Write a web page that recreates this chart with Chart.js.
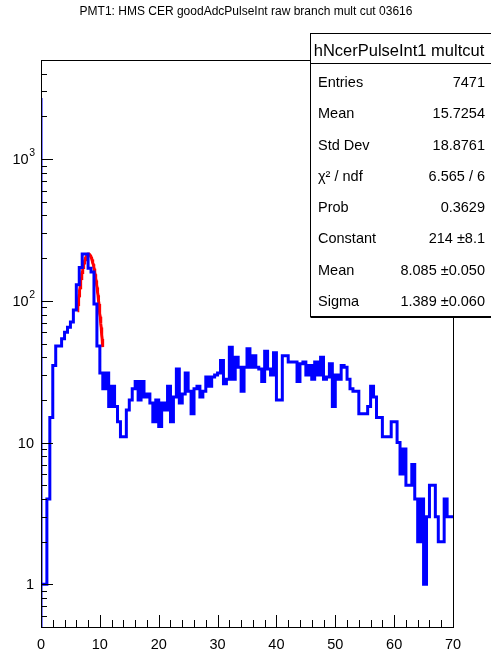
<!DOCTYPE html>
<html>
<head>
<meta charset="utf-8">
<script src="https://cdn.jsdelivr.net/npm/chart.js@4/dist/chart.umd.min.js"></script>
<style>
  html, body { margin: 0; padding: 0; background: #ffffff; }
  #wrap { width: 491px; height: 658px; position: relative; }
  canvas { display: block; }
</style>
</head>
<body>
<div id="wrap"><canvas id="c" width="491" height="658"></canvas></div>
<script>
// PMT1 pulse-integral histogram: 140 bins of width 0.5 over [0, 70]
const plotTitle = 'PMT1: HMS CER goodAdcPulseInt raw branch mult cut 03616';
const xMin = 0;
const xMax = 70;
const binWidth = 0.5;
const counts = [
  2700, 1, 1, 4, 15, 35, 48, 48, 54, 60,
  65, 71, 86, 130, 172, 214, 214, 170, 160, 95,
  48, 31, 24, 31, 18, 25, 18, 14, 11, 11,
  17, 20, 24, 27, 20, 27, 21, 22, 19, 14,
  20, 13, 19, 17, 25, 14, 21, 33, 19, 22,
  31, 23, 16, 24, 25, 21, 23, 29, 25, 29,
  30, 31, 38, 26, 28, 47, 28, 40, 34, 23,
  34, 46, 34, 41, 34, 33, 27, 44, 33, 30,
  43, 20, 20, 41, 41, 37, 37, 37, 27, 36,
  37, 30, 35, 28, 37, 30, 40, 28, 29, 36,
  18, 30, 28, 35, 34, 28, 24, 23, 23, 16,
  16, 16, 18, 25, 21, 15, 15, 11, 11, 11,
  14, 14, 10, 6, 9, 5, 5, 7, 4, 2,
  4, 1, 3, 5, 5, 3, 2, 2, 4, 3
];

// Gaussian fit result and its fit range
const fitConstant = 214;
const fitMean = 8.085;
const fitSigma = 1.389;
const fitRange = [6.2, 10.5];

// axis ticks and labels
const yMin = 0.5;
const yMax = 5000;
const xTickLabels = ['0', '10', '20', '30', '40', '50', '60', '70'];
const xMajorTicks = [0, 10, 20, 30, 40, 50, 60, 70];
const yMajorTicks = [1, 10, 100, 1000];
const yTickBase = ['1', '10', '10', '10'];
const yTickExp = ['', '', '2', '3'];

// statistics box
const statsName = 'hNcerPulseInt1 multcut';
const statsLabels = ['Entries', 'Mean', 'Std Dev', 'χ² / ndf', 'Prob', 'Constant', 'Mean', 'Sigma'];
const statsValues = ['7471', '15.7254', '18.8761', '6.565 / 6', '0.3629', '214 ±8.1', '8.085 ±0.050', '1.389 ±0.060'];

// step outline: start on the lower edge, then one point per bin low edge, then the upper edge
const histPoints = [{ x: xMin, y: yMin }];
counts.forEach((c, i) => histPoints.push({ x: xMin + i * binWidth, y: c }));
histPoints.push({ x: xMin + counts.length * binWidth, y: counts[counts.length - 1] });

const fitPoints = [];
const nFit = 80;
for (let i = 0; i <= nFit; i++) {
  const x = fitRange[0] + (fitRange[1] - fitRange[0]) * i / nFit;
  const d = (x - fitMean) / fitSigma;
  fitPoints.push({ x, y: fitConstant * Math.exp(-0.5 * d * d) });
}

const FONT = '"Liberation Sans", Arial, Helvetica, sans-serif';

const rootStyle = {
  id: 'rootStyle',
  afterDatasetsDraw(chart) {
    const ctx = chart.ctx;
    const a = chart.chartArea;
    const xs = chart.scales.x;
    const ys = chart.scales.y;
    ctx.save();

    // frame
    ctx.strokeStyle = '#000';
    ctx.lineWidth = 1;
    ctx.strokeRect(Math.round(a.left) + 0.5, Math.round(a.top) + 0.5,
                   Math.round(a.right - a.left), Math.round(a.bottom - a.top));

    // x ticks: major every 10, minor every 2, pointing inward
    ctx.beginPath();
    for (let v = xMin; v <= xMax + 1e-9; v += 2) {
      const px = Math.round(xs.getPixelForValue(v)) + 0.5;
      const len = (v % 10 === 0) ? 12 : 7;
      ctx.moveTo(px, a.bottom);
      ctx.lineTo(px, a.bottom - len);
    }
    // y ticks: decades major, 2..9 minor
    for (let e = -1; e <= 3; e++) {
      for (let m = 1; m <= 9; m++) {
        const v = m * Math.pow(10, e);
        if (v < yMin || v > yMax) continue;
        const py = Math.round(ys.getPixelForValue(v)) + 0.5;
        const len = (m === 1) ? 12 : 6;
        ctx.moveTo(a.left, py);
        ctx.lineTo(a.left + len, py);
      }
    }
    ctx.stroke();

    // x labels
    ctx.fillStyle = '#000';
    ctx.font = '14.5px ' + FONT;
    ctx.textAlign = 'center';
    ctx.textBaseline = 'middle';
    xMajorTicks.forEach((v, i) => {
      ctx.fillText(xTickLabels[i], xs.getPixelForValue(v), a.bottom + 18);
    });

    // y labels with raised exponent
    yMajorTicks.forEach((v, i) => {
      const py = ys.getPixelForValue(v);
      let right = a.left - 6;
      if (yTickExp[i]) {
        ctx.font = '10.5px ' + FONT;
        ctx.textAlign = 'right';
        ctx.fillText(yTickExp[i], right, py - 6);
        right -= ctx.measureText(yTickExp[i]).width + 0.5;
      } else {
        right -= 1;
      }
      ctx.font = '14.5px ' + FONT;
      ctx.textAlign = 'right';
      ctx.fillText(yTickBase[i], right, py + 1);
    });

    // title
    ctx.font = '12px ' + FONT;
    ctx.textAlign = 'center';
    ctx.fillText(plotTitle, 246, 12);

    // statistics box
    const bx = 310.5, by = 33.5, bw = 200, bh = 283;
    ctx.fillStyle = '#fff';
    ctx.fillRect(bx, by, bw, bh);
    ctx.strokeStyle = '#000';
    ctx.lineWidth = 1;
    ctx.strokeRect(bx, by, bw, bh);
    ctx.beginPath();
    ctx.moveTo(bx, by + bh + 1);
    ctx.lineTo(bx + bw, by + bh + 1);
    ctx.stroke();
    ctx.beginPath();
    ctx.moveTo(bx, 63.5);
    ctx.lineTo(bx + bw, 63.5);
    ctx.stroke();

    ctx.fillStyle = '#000';
    ctx.font = '16.5px ' + FONT;
    ctx.textAlign = 'center';
    ctx.fillText(statsName, 399, 51);
    ctx.font = '14.5px ' + FONT;
    const rowY0 = 83, rowDy = 31.25;
    statsLabels.forEach((lab, i) => {
      const y = rowY0 + i * rowDy;
      ctx.textAlign = 'left';
      ctx.fillText(lab, 318, y);
      ctx.textAlign = 'right';
      ctx.fillText(statsValues[i], 485, y);
    });
    ctx.restore();
  }
};

new Chart(document.getElementById('c'), {
  type: 'line',
  data: {
    datasets: [
      {
        label: 'hNcerPulseInt1 multcut',
        data: histPoints,
        borderColor: '#0000ff',
        borderWidth: 3,
        stepped: 'after',
        pointRadius: 0,
        fill: false
      },
      {
        label: 'gaus',
        data: fitPoints,
        borderColor: '#ff0000',
        borderWidth: 3,
        pointRadius: 0,
        tension: 0,
        fill: false
      }
    ]
  },
  options: {
    responsive: false,
    animation: false,
    devicePixelRatio: 1,
    layout: { padding: { left: 41, top: 60, right: 38, bottom: 31 } },
    plugins: { legend: { display: false }, tooltip: { enabled: false }, title: { display: false } },
    scales: {
      x: { type: 'linear', min: xMin, max: xMax, display: false },
      y: { type: 'logarithmic', min: yMin, max: yMax, display: false }
    }
  },
  plugins: [rootStyle]
});
</script>
</body>
</html>
